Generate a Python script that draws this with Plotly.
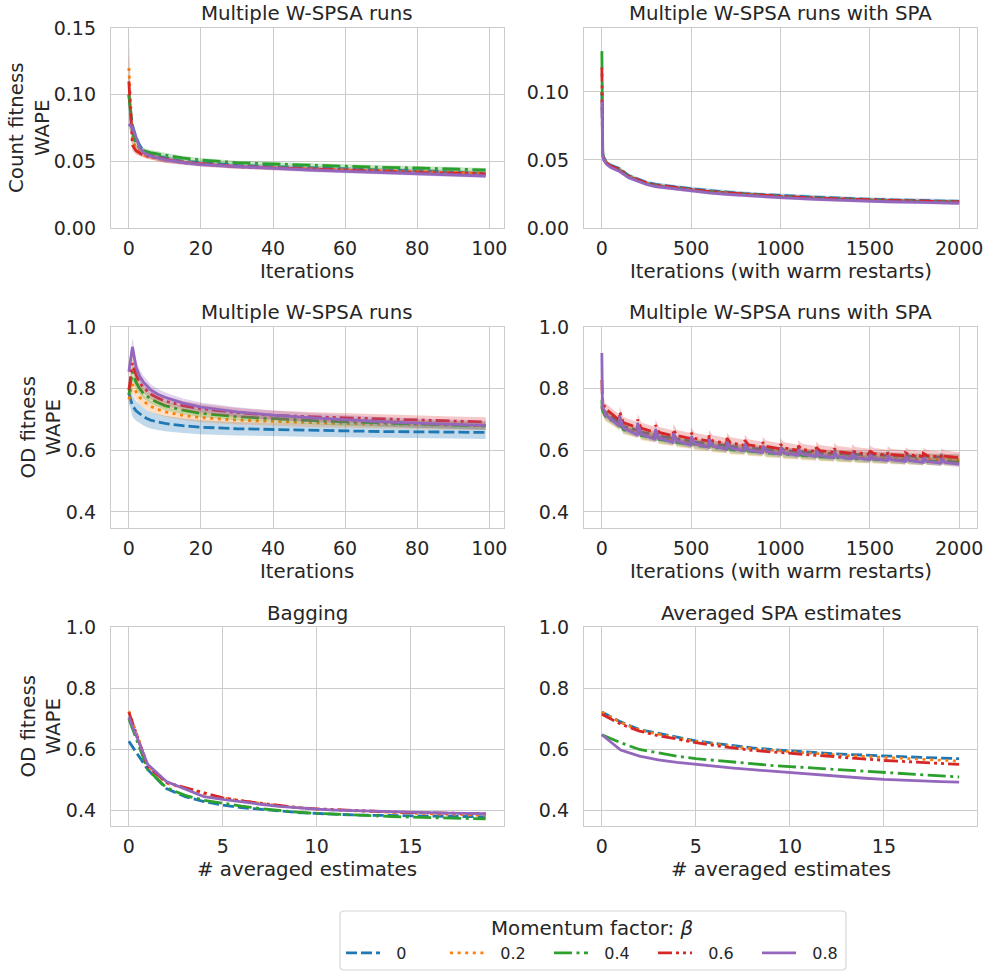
import plotly.graph_objects as go

# ---------------------------------------------------------------- styling
BETAS = ["0", "0.2", "0.4", "0.6", "0.8"]
COLORS = ["#1f77b4", "#ff7f0e", "#2ca02c", "#d62728", "#9467bd"]
BANDS = ["rgba(31,119,180,0.28)", "rgba(255,127,14,0.25)", "rgba(44,160,44,0.25)",
         "rgba(214,39,40,0.25)", "rgba(148,103,189,0.28)"]
DASHES = ["11px,4px", "3px,4.6px", "18px,4.5px,3px,4.5px",
          "14px,4px,3px,4px,3px,4px", "solid"]
LW = 2.8
INK = "#262626"
GRID = "#cccccc"
FONT = "DejaVu Sans"
TICK_SIZE = 19
LABEL_SIZE = 19.8
LEGEND_PAD = "\u2002\u2009"   # gap between legend line and its label

# ---------------------------------------------------------------- data
# W-SPSA runs, 100 iterations (sampled iterations)
wspsa_iter = [0, 1, 2, 3, 4, 5, 6, 8, 10, 15, 20, 30, 40, 50, 60, 70, 80, 90, 99]

count_wspsa = [
    [0.100, 0.077, 0.068, 0.062, 0.058, 0.056, 0.055, 0.054, 0.0525, 0.050, 0.049, 0.047, 0.046, 0.045, 0.044, 0.0435, 0.043, 0.042, 0.041],    # 0
    [0.120, 0.066, 0.060, 0.057, 0.055, 0.054, 0.0535, 0.052, 0.051, 0.0495, 0.048, 0.046, 0.045, 0.044, 0.0435, 0.043, 0.042, 0.0415, 0.041],  # 0.2
    [0.100, 0.072, 0.063, 0.060, 0.058, 0.057, 0.0565, 0.0555, 0.0545, 0.0525, 0.051, 0.049, 0.048, 0.047, 0.046, 0.0455, 0.045, 0.0445, 0.0435],  # 0.4
    [0.110, 0.062, 0.058, 0.056, 0.0545, 0.054, 0.0535, 0.052, 0.051, 0.049, 0.048, 0.046, 0.045, 0.044, 0.043, 0.042, 0.0415, 0.041, 0.0405],  # 0.6
    [0.078, 0.075, 0.068, 0.060, 0.057, 0.055, 0.054, 0.0525, 0.051, 0.049, 0.0475, 0.046, 0.0445, 0.0435, 0.0425, 0.0415, 0.041, 0.040, 0.039],  # 0.8
]
count_wspsa_ci = [
    [0.012, 0.004, 0.003, 0.002, 0.002, 0.002, 0.002, 0.002, 0.002, 0.0015, 0.0015, 0.0015, 0.0015, 0.0015, 0.0015, 0.0015, 0.0015, 0.0015, 0.0015],
    [0.030, 0.004, 0.003, 0.002, 0.002, 0.002, 0.002, 0.002, 0.002, 0.0015, 0.0015, 0.0015, 0.0015, 0.0015, 0.0015, 0.0015, 0.0015, 0.0015, 0.0015],
    [0.015, 0.004, 0.003, 0.002, 0.002, 0.002, 0.002, 0.002, 0.002, 0.0015, 0.0015, 0.0015, 0.0015, 0.0015, 0.0015, 0.0015, 0.0015, 0.0015, 0.0015],
    [0.020, 0.004, 0.003, 0.002, 0.002, 0.002, 0.002, 0.002, 0.002, 0.0015, 0.0015, 0.0015, 0.0015, 0.0015, 0.0015, 0.0015, 0.0015, 0.0015, 0.0015],
    [0.004, 0.004, 0.003, 0.002, 0.002, 0.002, 0.002, 0.002, 0.002, 0.0015, 0.0015, 0.0015, 0.0015, 0.0015, 0.0015, 0.0015, 0.0015, 0.0015, 0.0015],
]

od_wspsa = [
    [0.785, 0.745, 0.728, 0.718, 0.710, 0.703, 0.698, 0.692, 0.687, 0.680, 0.675, 0.670, 0.667, 0.665, 0.663, 0.661, 0.660, 0.659, 0.658],  # 0
    [0.765, 0.815, 0.790, 0.772, 0.760, 0.750, 0.743, 0.733, 0.725, 0.713, 0.706, 0.698, 0.693, 0.690, 0.687, 0.685, 0.683, 0.681, 0.680],  # 0.2
    [0.780, 0.855, 0.820, 0.800, 0.785, 0.775, 0.767, 0.755, 0.745, 0.730, 0.720, 0.709, 0.702, 0.697, 0.692, 0.688, 0.685, 0.682, 0.679],  # 0.4
    [0.795, 0.883, 0.845, 0.820, 0.805, 0.793, 0.783, 0.770, 0.760, 0.745, 0.735, 0.722, 0.714, 0.709, 0.705, 0.701, 0.698, 0.695, 0.692],  # 0.6
    [0.855, 0.935, 0.870, 0.840, 0.822, 0.808, 0.797, 0.782, 0.772, 0.753, 0.740, 0.725, 0.714, 0.706, 0.699, 0.693, 0.688, 0.684, 0.681],  # 0.8
]
od_wspsa_ci = [
    [0.030, 0.035, 0.032, 0.030, 0.029, 0.028, 0.027, 0.026, 0.025, 0.024, 0.023, 0.022, 0.022, 0.021, 0.021, 0.021, 0.021, 0.021, 0.021],
    [0.030, 0.030, 0.025, 0.022, 0.020, 0.019, 0.018, 0.017, 0.016, 0.015, 0.015, 0.014, 0.014, 0.014, 0.014, 0.014, 0.014, 0.014, 0.014],
    [0.020, 0.025, 0.020, 0.018, 0.016, 0.015, 0.015, 0.014, 0.014, 0.013, 0.013, 0.012, 0.012, 0.012, 0.012, 0.012, 0.012, 0.012, 0.012],
    [0.020, 0.025, 0.022, 0.020, 0.018, 0.017, 0.017, 0.016, 0.016, 0.015, 0.015, 0.015, 0.015, 0.015, 0.015, 0.015, 0.015, 0.015, 0.015],
    [0.020, 0.030, 0.025, 0.022, 0.020, 0.019, 0.018, 0.017, 0.016, 0.015, 0.015, 0.015, 0.015, 0.015, 0.015, 0.015, 0.015, 0.015, 0.015],
]

# W-SPSA runs with SPA, 2000 iterations (warm restart every 100 iterations)
count_spa_iter = [0, 2, 5, 10, 25, 50, 100, 150, 200, 250, 300, 400, 500, 600, 700,
                  800, 900, 1000, 1200, 1400, 1600, 1800, 2000]
count_spa = [
    [0.100, 0.062, 0.055, 0.052, 0.0485, 0.046, 0.0435, 0.0385, 0.036, 0.0335, 0.032, 0.0302, 0.0288, 0.0275, 0.0263, 0.0253, 0.0245, 0.0238, 0.0225, 0.0215, 0.0207, 0.0201, 0.0196],  # 0
    [0.100, 0.061, 0.054, 0.051, 0.0478, 0.0452, 0.0425, 0.0378, 0.0353, 0.0328, 0.0313, 0.0296, 0.0280, 0.0266, 0.0256, 0.0246, 0.0238, 0.0231, 0.0218, 0.0208, 0.0201, 0.0195, 0.0189],  # 0.2
    [0.130, 0.061, 0.054, 0.051, 0.0478, 0.0452, 0.0425, 0.0378, 0.0352, 0.0327, 0.0312, 0.0295, 0.0279, 0.0265, 0.0255, 0.0245, 0.0237, 0.0230, 0.0217, 0.0207, 0.0200, 0.0194, 0.0188],  # 0.4
    [0.118, 0.061, 0.054, 0.051, 0.0480, 0.0455, 0.0430, 0.0380, 0.0355, 0.0330, 0.0315, 0.0298, 0.0282, 0.0268, 0.0258, 0.0248, 0.0240, 0.0233, 0.0220, 0.0210, 0.0203, 0.0197, 0.0191],  # 0.6
    [0.093, 0.060, 0.053, 0.050, 0.0470, 0.0445, 0.0415, 0.0370, 0.0345, 0.0320, 0.0305, 0.0288, 0.0272, 0.0258, 0.0248, 0.0238, 0.0230, 0.0223, 0.0210, 0.0200, 0.0193, 0.0188, 0.0182],  # 0.8
]
count_spa_ci = [0.0015, 0.0012, 0.0012, 0.0012, 0.0012]

restarts = [k * 100 for k in range(20)]
# OD fitness with SPA: value at each restart, 20 iterations later, and at segment end
od_spa_peak = [
    [0.745, 0.700, 0.680, 0.664, 0.652, 0.642, 0.634, 0.627, 0.620, 0.614, 0.609, 0.604, 0.600, 0.597, 0.594, 0.591, 0.589, 0.587, 0.585, 0.583],
    [0.740, 0.693, 0.673, 0.657, 0.645, 0.635, 0.627, 0.620, 0.613, 0.607, 0.601, 0.596, 0.592, 0.588, 0.585, 0.582, 0.580, 0.578, 0.576, 0.575],
    [0.763, 0.690, 0.670, 0.654, 0.642, 0.632, 0.624, 0.616, 0.610, 0.604, 0.598, 0.593, 0.589, 0.585, 0.582, 0.579, 0.576, 0.574, 0.572, 0.570],
    [0.828, 0.725, 0.700, 0.682, 0.668, 0.657, 0.648, 0.640, 0.633, 0.626, 0.620, 0.615, 0.610, 0.606, 0.602, 0.598, 0.595, 0.592, 0.590, 0.588],
    [0.916, 0.711, 0.689, 0.668, 0.655, 0.645, 0.636, 0.628, 0.621, 0.614, 0.608, 0.603, 0.598, 0.594, 0.590, 0.586, 0.583, 0.579, 0.576, 0.573],
]
od_spa_mid = [
    [0.722, 0.678, 0.659, 0.646, 0.636, 0.627, 0.620, 0.613, 0.607, 0.603, 0.599, 0.595, 0.592, 0.589, 0.587, 0.585, 0.583, 0.581, 0.580, 0.578],
    [0.712, 0.670, 0.651, 0.638, 0.628, 0.619, 0.612, 0.605, 0.600, 0.595, 0.590, 0.586, 0.583, 0.580, 0.577, 0.575, 0.573, 0.571, 0.570, 0.569],
    [0.710, 0.667, 0.648, 0.635, 0.625, 0.616, 0.609, 0.602, 0.597, 0.591, 0.587, 0.583, 0.579, 0.576, 0.573, 0.571, 0.569, 0.567, 0.565, 0.564],
    [0.735, 0.690, 0.672, 0.658, 0.648, 0.639, 0.631, 0.624, 0.618, 0.613, 0.608, 0.603, 0.599, 0.596, 0.593, 0.590, 0.587, 0.585, 0.583, 0.581],
    [0.715, 0.672, 0.652, 0.640, 0.630, 0.621, 0.614, 0.607, 0.601, 0.596, 0.591, 0.587, 0.583, 0.579, 0.576, 0.573, 0.570, 0.567, 0.564, 0.561],
]
od_spa_end = [
    [0.690, 0.665, 0.650, 0.639, 0.630, 0.622, 0.615, 0.609, 0.604, 0.600, 0.596, 0.592, 0.589, 0.587, 0.585, 0.583, 0.581, 0.579, 0.578, 0.577],
    [0.683, 0.658, 0.643, 0.632, 0.623, 0.615, 0.608, 0.602, 0.597, 0.592, 0.588, 0.584, 0.581, 0.578, 0.576, 0.574, 0.572, 0.570, 0.569, 0.568],
    [0.680, 0.655, 0.640, 0.629, 0.620, 0.612, 0.605, 0.599, 0.594, 0.589, 0.585, 0.581, 0.577, 0.574, 0.571, 0.569, 0.567, 0.565, 0.563, 0.562],
    [0.697, 0.674, 0.658, 0.647, 0.638, 0.630, 0.622, 0.616, 0.610, 0.605, 0.600, 0.596, 0.593, 0.590, 0.587, 0.584, 0.582, 0.580, 0.578, 0.576],
    [0.678, 0.650, 0.636, 0.626, 0.617, 0.610, 0.603, 0.598, 0.593, 0.588, 0.584, 0.580, 0.576, 0.573, 0.570, 0.567, 0.564, 0.561, 0.558, 0.555],
]
od_spa_drop = [0.735, 0.730, 0.730, 0.760, 0.745]   # value 3 iterations after start
od_spa_ci = [0.010, 0.018, 0.012, 0.018, 0.010]

# Averaging of estimates
n_averaged = list(range(20))
bagging = [
    [0.627, 0.535, 0.472, 0.446, 0.430, 0.418, 0.410, 0.404, 0.398, 0.394, 0.391, 0.388, 0.386, 0.385, 0.384, 0.383, 0.382, 0.381, 0.380, 0.380],
    [0.725, 0.548, 0.490, 0.472, 0.455, 0.442, 0.432, 0.424, 0.416, 0.410, 0.405, 0.402, 0.399, 0.396, 0.394, 0.392, 0.390, 0.388, 0.386, 0.385],
    [0.700, 0.535, 0.475, 0.450, 0.434, 0.424, 0.415, 0.407, 0.400, 0.395, 0.391, 0.388, 0.385, 0.383, 0.381, 0.379, 0.377, 0.376, 0.374, 0.373],
    [0.722, 0.545, 0.492, 0.475, 0.458, 0.442, 0.432, 0.424, 0.416, 0.410, 0.406, 0.403, 0.400, 0.398, 0.396, 0.394, 0.393, 0.392, 0.391, 0.390],
    [0.706, 0.552, 0.495, 0.470, 0.446, 0.437, 0.428, 0.421, 0.414, 0.409, 0.405, 0.402, 0.400, 0.398, 0.396, 0.395, 0.393, 0.392, 0.391, 0.390],
]
averaged_spa = [
    [0.722, 0.690, 0.665, 0.652, 0.640, 0.628, 0.620, 0.612, 0.605, 0.600, 0.595, 0.591, 0.587, 0.584, 0.581, 0.579, 0.576, 0.574, 0.572, 0.570],
    [0.722, 0.688, 0.663, 0.649, 0.637, 0.626, 0.617, 0.609, 0.602, 0.597, 0.592, 0.588, 0.584, 0.580, 0.577, 0.574, 0.571, 0.568, 0.565, 0.562],
    [0.648, 0.622, 0.600, 0.588, 0.578, 0.570, 0.564, 0.558, 0.553, 0.548, 0.544, 0.540, 0.536, 0.532, 0.528, 0.524, 0.521, 0.518, 0.514, 0.510],
    [0.715, 0.683, 0.660, 0.645, 0.634, 0.622, 0.613, 0.605, 0.597, 0.592, 0.587, 0.582, 0.577, 0.572, 0.568, 0.564, 0.561, 0.558, 0.555, 0.551],
    [0.648, 0.598, 0.578, 0.566, 0.558, 0.551, 0.545, 0.539, 0.534, 0.529, 0.524, 0.519, 0.514, 0.510, 0.506, 0.502, 0.499, 0.497, 0.495, 0.493],
]

# ---------------------------------------------------------------- figure
W, H = 989, 972
fig = go.Figure()


def add_series(ax, x, y, i, ci=None, legend=False):
    sfx = "" if ax == 1 else str(ax)
    if ci is not None:
        lo = [v - c for v, c in zip(y, ci)]
        hi = [v + c for v, c in zip(y, ci)]
        fig.add_trace(go.Scatter(x=x, y=lo, mode="lines", line=dict(width=0),
                                 xaxis="x" + sfx, yaxis="y" + sfx, showlegend=False,
                                 hoverinfo="skip"))
        fig.add_trace(go.Scatter(x=x, y=hi, mode="lines", line=dict(width=0),
                                 fill="tonexty", fillcolor=BANDS[i],
                                 xaxis="x" + sfx, yaxis="y" + sfx, showlegend=False,
                                 hoverinfo="skip"))
    fig.add_trace(go.Scatter(x=x, y=y, mode="lines", name=LEGEND_PAD + BETAS[i],
                             legendgroup=BETAS[i], showlegend=legend,
                             line=dict(color=COLORS[i], width=LW, dash=DASHES[i]),
                             xaxis="x" + sfx, yaxis="y" + sfx))


def sawtooth(i):
    xs, ys = [], []
    for k, s in enumerate(restarts):
        last = 2000 if k == len(restarts) - 1 else s + 99
        if k == 0:
            xs += [s, s + 3, s + 20, last]
            ys += [od_spa_peak[i][k], od_spa_drop[i], od_spa_mid[i][k], od_spa_end[i][k]]
        else:
            xs += [s, s + 20, last]
            ys += [od_spa_peak[i][k], od_spa_mid[i][k], od_spa_end[i][k]]
    return xs, ys


for i in range(5):
    add_series(1, wspsa_iter, count_wspsa[i], i, count_wspsa_ci[i], legend=True)
    add_series(2, count_spa_iter, count_spa[i], i, [count_spa_ci[i]] * len(count_spa_iter))
    add_series(3, wspsa_iter, od_wspsa[i], i, od_wspsa_ci[i])
    sx, sy = sawtooth(i)
    add_series(4, sx, sy, i, [od_spa_ci[i]] * len(sx))
    add_series(5, n_averaged, bagging[i], i)
    add_series(6, n_averaged, averaged_spa[i], i)

# panel geometry in pixels (left, right, top, bottom)
cols = [(111, 503.5), (584, 977)]
rows = [(28, 228), (327, 528), (627, 826)]

panels = [
    # (col, row, xrange, xticks, yrange, yticks, yfmt, title, xlabel, ylabel)
    (0, 0, [-4.95, 103.95], [0, 20, 40, 60, 80, 100], [0, 0.15], [0, 0.05, 0.10, 0.15], ".2f",
     "Multiple W-SPSA runs", "Iterations", "Count fitness<br>WAPE"),
    (1, 0, [-100, 2100], [0, 500, 1000, 1500, 2000], [0, 0.147], [0, 0.05, 0.10], ".2f",
     "Multiple W-SPSA runs with SPA", "Iterations (with warm restarts)", None),
    (0, 1, [-4.95, 103.95], [0, 20, 40, 60, 80, 100], [0.348, 1.0], [0.4, 0.6, 0.8, 1.0], ".1f",
     "Multiple W-SPSA runs", "Iterations", "OD fitness<br>WAPE"),
    (1, 1, [-100, 2100], [0, 500, 1000, 1500, 2000], [0.348, 1.0], [0.4, 0.6, 0.8, 1.0], ".1f",
     "Multiple W-SPSA runs with SPA", "Iterations (with warm restarts)", None),
    (0, 2, [-0.95, 19.95], [0, 5, 10, 15], [0.35, 1.0], [0.4, 0.6, 0.8, 1.0], ".1f",
     "Bagging", "# averaged estimates", "OD fitness<br>WAPE"),
    (1, 2, [-0.95, 19.95], [0, 5, 10, 15], [0.35, 1.0], [0.4, 0.6, 0.8, 1.0], ".1f",
     "Averaged SPA estimates", "# averaged estimates", None),
]

# legend frame (pixels)
LEG_L, LEG_R, LEG_T, LEG_B = 340, 846, 911, 970

layout = dict(
    width=W, height=H, margin=dict(l=0, r=0, t=0, b=0, autoexpand=False),
    paper_bgcolor="white", plot_bgcolor="white",
    font=dict(family=FONT, color=INK, size=TICK_SIZE),
    showlegend=True,
    legend=dict(
        orientation="h", x=(LEG_L + 1) / W, xanchor="left", y=1 - 953 / H, yanchor="middle",
        font=dict(size=16, family=FONT, color=INK),
        borderwidth=0, bgcolor="rgba(0,0,0,0)",
        itemwidth=34, entrywidth=55, entrywidthmode="pixels",
        tracegroupgap=0,
    ),
)

r = 4
x0, x1 = LEG_L / W, LEG_R / W
y0, y1 = 1 - LEG_B / H, 1 - LEG_T / H
rx, ry = r / W, r / H
frame_path = (f"M{x0 + rx},{y1} L{x1 - rx},{y1} Q{x1},{y1} {x1},{y1 - ry} "
              f"L{x1},{y0 + ry} Q{x1},{y0} {x1 - rx},{y0} L{x0 + rx},{y0} "
              f"Q{x0},{y0} {x0},{y0 + ry} L{x0},{y1 - ry} Q{x0},{y1} {x0 + rx},{y1} Z")
layout["shapes"] = [dict(type="path", path=frame_path, xref="paper", yref="paper",
                         line=dict(color="#d5d5d5", width=1.2), fillcolor="white",
                         layer="below")]

annotations = [dict(text="Momentum factor: <i>β</i>", x=592.5 / W, y=1 - 928 / H,
                    xref="paper", yref="paper", xanchor="center", yanchor="middle",
                    showarrow=False, font=dict(size=LABEL_SIZE, family=FONT, color=INK))]
axis_common = dict(showgrid=True, gridcolor=GRID, gridwidth=1, zeroline=False,
                   showline=True, linecolor=GRID, linewidth=1.3, mirror=True,
                   ticks="", tickfont=dict(size=TICK_SIZE, family=FONT, color=INK))

for n, (c, rw, xr, xt, yr, yt, yfmt, title, xlab, ylab) in enumerate(panels, start=1):
    sfx = "" if n == 1 else str(n)
    l, rgt = cols[c]
    top, bot = rows[rw]
    layout["xaxis" + sfx] = dict(axis_common, domain=[l / W, rgt / W], range=xr,
                                 tickvals=xt, anchor="y" + sfx, ticklabelstandoff=3)
    layout["yaxis" + sfx] = dict(axis_common, domain=[1 - bot / H, 1 - top / H], range=yr,
                                 tickvals=yt, tickformat=yfmt, anchor="x" + sfx,
                                 ticklabelstandoff=10)
    cx = (l + rgt) / 2
    annotations.append(dict(text=title, x=cx / W, y=1 - (top - 14) / H, xref="paper",
                            yref="paper", xanchor="center", yanchor="middle",
                            showarrow=False, font=dict(size=LABEL_SIZE, family=FONT, color=INK)))
    annotations.append(dict(text=xlab, x=cx / W, y=1 - (bot + 43) / H, xref="paper",
                            yref="paper", xanchor="center", yanchor="middle",
                            showarrow=False, font=dict(size=LABEL_SIZE, family=FONT, color=INK)))
    if ylab:
        ycx = 29 if rw == 0 else 41
        annotations.append(dict(text=ylab, x=ycx / W, y=1 - ((top + bot) / 2) / H,
                                xref="paper", yref="paper", xanchor="center",
                                yanchor="middle", textangle=-90, showarrow=False,
                                font=dict(size=LABEL_SIZE, family=FONT, color=INK)))

layout["annotations"] = annotations
fig.update_layout(**layout)
fig.write_html("out.html")
